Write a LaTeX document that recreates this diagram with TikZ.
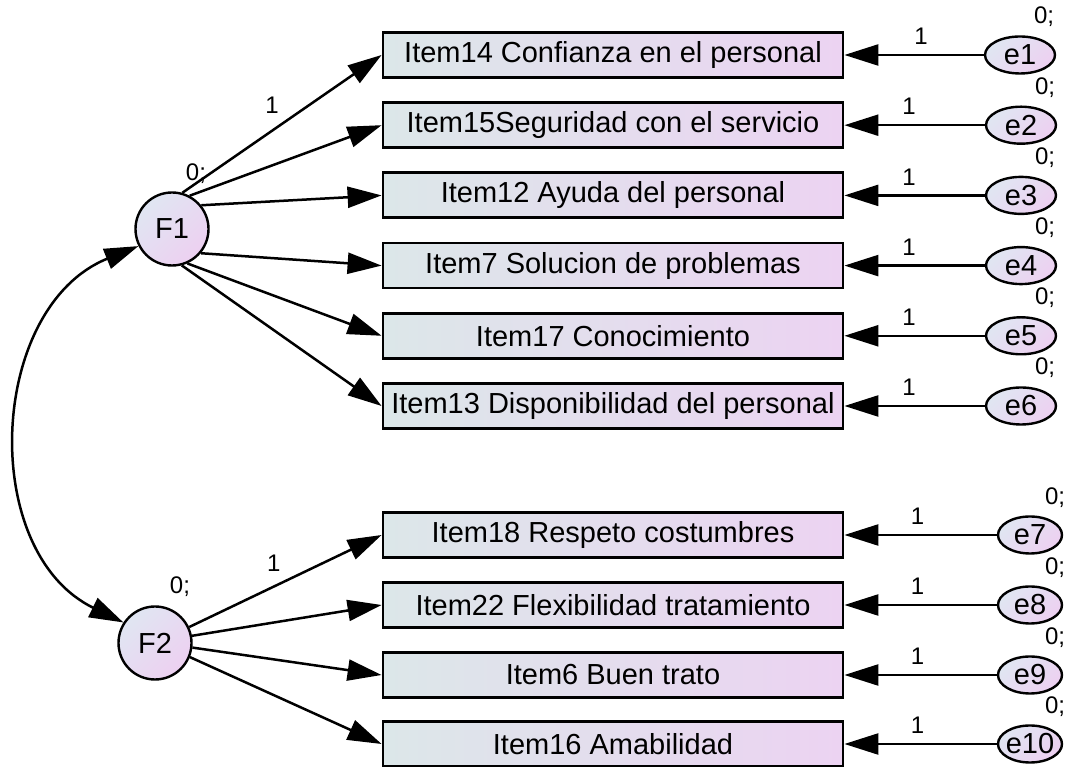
\documentclass[tikz,border=0pt]{standalone}
\usepackage{fontspec}
\setmainfont{Liberation Sans}
\usetikzlibrary{arrows.meta,shapes.geometric}

\definecolor{boxL}{RGB}{220,231,233}
\definecolor{boxR}{RGB}{236,211,242}
\definecolor{latA}{RGB}{224,230,242}
\definecolor{latB}{RGB}{237,208,241}

\begin{document}
\begin{tikzpicture}[x=1pt,y=1pt,
  item/.style={draw, line width=2.8pt, minimum width=460pt, minimum height=45pt,
    inner sep=0pt, left color=boxL, right color=boxR,
    font=\fontsize{29}{33}\selectfont},
  factor/.style={circle, draw, line width=2.4pt, minimum size=73pt, inner sep=0pt,
    top color=latA, bottom color=latB, shading angle=45,
    font=\fontsize{29}{33}\selectfont},
  err/.style={ellipse, draw, line width=2.4pt, minimum width=70pt, minimum height=37pt,
    inner sep=0pt, top color=latA, bottom color=latB, shading angle=45,
    label={[font=\fontsize{29}{33}\selectfont, inner sep=0pt]center:#1}},
  errs/.style={err=#1, minimum width=64pt},
  lab/.style={font=\fontsize{24}{24}\selectfont, inner sep=1pt},
  load/.style={line width=2.5pt, -{Triangle[length=34pt,width=21pt]}},
  cov/.style={line width=2.5pt, {Triangle[length=34pt,width=21pt]}-{Triangle[length=34pt,width=21pt]}},
  wt/.style={lab, above=8pt}
]
\useasboundingbox (0,0) rectangle (1067,767);

% factors
\node[factor] (F1) at (172,538) {F1};
\node[factor] (F2) at (155,124) {F2};
\node[lab] (F1v) at (196,593) {0;};
\node[lab] (F2v) at (180,180) {0;};

% indicators of F1
\node[item] (i14) at (613,712)   {Item14 Confianza en el personal};
\node[item] (i15) at (613,641.8) {Item15Seguridad con el servicio};
\node[item] (i12) at (613,571.6) {Item12 Ayuda del personal};
\node[item] (i7)  at (613,501.4) {Item7 Solucion de problemas};
\node[item] (i17) at (613,431.2) {Item17 Conocimiento};
\node[item] (i13) at (613,361)   {Item13 Disponibilidad del personal};

% indicators of F2
\node[item] (i18) at (613,232) {Item18 Respeto costumbres};
\node[item] (i22) at (613,162) {Item22 Flexibilidad tratamiento};
\node[item] (i6)  at (613,92)  {Item6 Buen trato};
\node[item] (i16) at (613,23)  {Item16 Amabilidad};

% error terms
\node[err=e1] (e1) at (1020,712)   {};
\node[err=e2] (e2) at (1021,641.8) {};
\node[err=e3] (e3) at (1021,571.6) {};
\node[err=e4] (e4) at (1021,501.4) {};
\node[err=e5] (e5) at (1021,431.2) {};
\node[err=e6] (e6) at (1021,361)   {};
\node[errs=e7]  (e7)  at (1030,232) {};
\node[errs=e8]  (e8)  at (1030,162) {};
\node[errs=e9]  (e9)  at (1030,92)  {};
\node[errs=e10] (e10) at (1030,23)  {};

% error variances
\foreach \e in {e1,e2,e3,e4,e5,e6}
  \path (\e) ++(24,38) node[lab] {0;};
\foreach \e in {e7,e8,e9,e10}
  \path (\e) ++(25,37) node[lab] {0;};

% loadings
\draw[load] (F1.74)  -- node[lab, pos=0.45, yshift=26pt] {1} (i14.west);
\draw[load] (F1.62)  -- (i15.west);
\draw[load] (F1.39)  -- (i12.west);
\draw[load] (F1.-40) -- (i7.west);
\draw[load] (F1.-66) -- (i17.west);
\draw[load] (F1.-75) -- (i13.west);

\draw[load] (F2.25)  -- node[lab, pos=0.44, yshift=23pt] {1} (i18.west);
\draw[load] (F2.11)  -- (i22.west);
\draw[load] (F2.-7)  -- (i6.west);
\draw[load] (F2.-22) -- (i16.west);

% error paths
\draw[load] (e1.west) -- node[wt, pos=0.45] {1} (i14.east);
\draw[load] (e2.west) -- node[wt, pos=0.54] {1} (i15.east);
\draw[load] (e3.west) -- node[wt, pos=0.54] {1} (i12.east);
\draw[load] (e4.west) -- node[wt, pos=0.54] {1} (i7.east);
\draw[load] (e5.west) -- node[wt, pos=0.54] {1} (i17.east);
\draw[load] (e6.west) -- node[wt, pos=0.54] {1} (i13.east);
\draw[load] (e7.west) -- node[wt, pos=0.52] {1} (i18.east);
\draw[load] (e8.west) -- node[wt, pos=0.52] {1} (i22.east);
\draw[load] (e9.west) -- node[wt, pos=0.52] {1} (i6.east);
\draw[load] (e10.west) -- node[wt, pos=0.52] {1} (i16.east);

% factor covariance
\draw[cov] (F1.207) to[out=202, in=154, looseness=1.1] (F2.147);
\end{tikzpicture}
\end{document}
